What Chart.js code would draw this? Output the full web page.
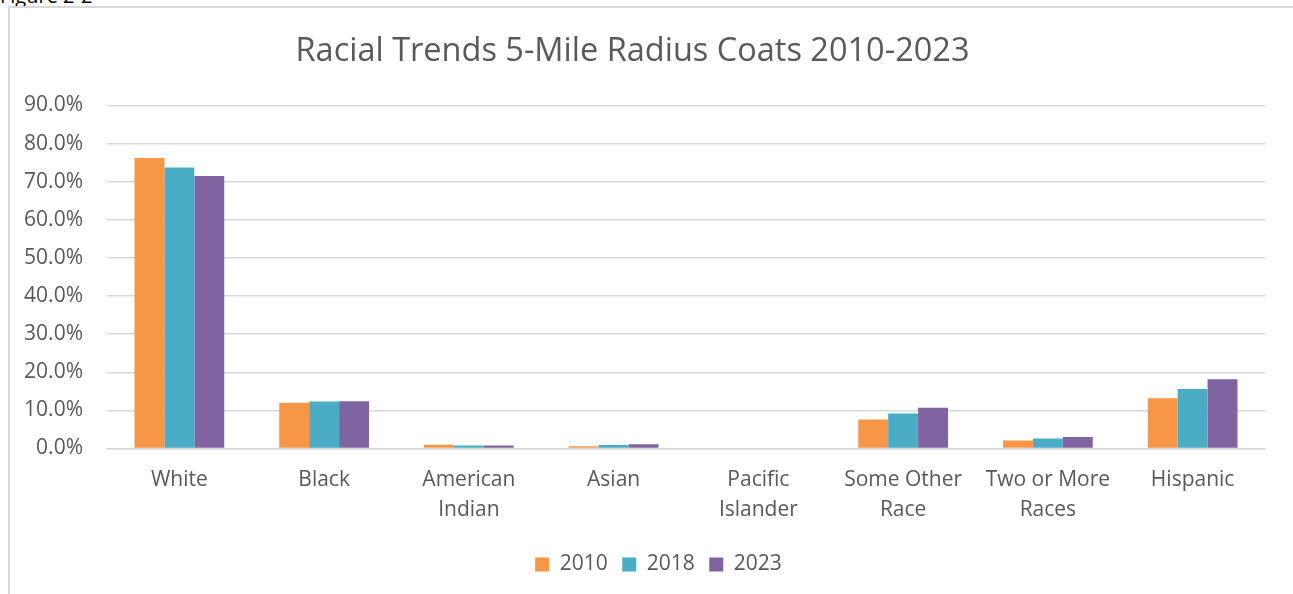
<!DOCTYPE html>
<html>
<head>
<meta charset="utf-8">
<script src="https://cdn.jsdelivr.net/npm/chart.js@4.4.1/dist/chart.umd.min.js"></script>
<style>
  html, body { margin: 0; padding: 0; background: #fff; overflow: hidden; }
  #wrap { position: relative; width: 1293px; height: 594px; }
  #fig { position: absolute; left: 0; top: -18px; font: 20px "Open Sans", Lato, sans-serif; color: #000; white-space: nowrap; }
  #frame { position: absolute; left: 8px; top: 6px; width: 1400px; height: 700px; border-top: 2px solid #d9d9d9; border-left: 2px solid #d9d9d9; }
  #c { position: absolute; left: 0; top: 0; }
</style>
</head>
<body>
<div id="wrap">
  <div id="fig">Figure 2-2</div>
  <div id="frame"></div>
  <canvas id="c" width="1293" height="594"></canvas>
</div>
<script>
const categories = ["White", "Black", ["American", "Indian"], "Asian", ["Pacific", "Islander"], ["Some Other", "Race"], ["Two or More", "Races"], "Hispanic"];
const seriesNames = ["2010", "2018", "2023"];
const values2010 = [76.2, 12.0, 1.0, 0.6, 0.0, 7.6, 2.1, 13.2];
const values2018 = [73.7, 12.3, 0.8, 0.9, 0.0, 9.2, 2.6, 15.6];
const values2023 = [71.5, 12.4, 0.8, 1.1, 0.0, 10.7, 3.0, 18.2];
const yTicks = [0, 10, 20, 30, 40, 50, 60, 70, 80, 90];
const titleText = "Racial Trends 5-Mile Radius Coats 2010-2023";

const colors = ["#F79646", "#4BACC6", "#8064A2"];
const FONT = "'Open Sans', Lato, sans-serif";
const TXT = "#595959";

const shiftLegend = {
  id: "shiftLegend",
  afterLayout(chart) {
    if (chart.legend) { chart.legend.left += 52; }
  }
};

new Chart(document.getElementById("c"), {
  type: "bar",
  data: {
    labels: categories,
    datasets: [values2010, values2018, values2023].map((d, i) => ({
      label: seriesNames[i],
      data: d,
      backgroundColor: colors[i],
      borderWidth: 0,
      categoryPercentage: 0.62,
      barPercentage: 1.0
    }))
  },
  plugins: [shiftLegend],
  options: {
    responsive: false,
    animation: false,
    layout: { padding: { left: 0, right: 28, top: 0, bottom: 9 } },
    plugins: {
      title: {
        display: true,
        text: titleText,
        color: TXT,
        font: { family: FONT, size: 32.5, weight: "normal", lineHeight: 1.2 },
        padding: { top: 32.5, bottom: 34 }
      },
      legend: {
        position: "bottom",
        labels: {
          color: TXT,
          font: { family: FONT, size: 21 },
          boxWidth: 14,
          boxHeight: 14,
          padding: 14.5
        }
      },
      tooltip: { enabled: false }
    },
    scales: {
      y: {
        min: 0,
        max: 90,
        afterBuildTicks: (s) => { s.ticks = yTicks.map(v => ({ value: v })); },
        afterFit: (s) => { s.width = 107; },
        ticks: {
          color: TXT,
          font: { family: FONT, size: 21 },
          padding: 24,
          callback: (v) => v.toFixed(1) + "%"
        },
        grid: { color: "#d9d9d9", lineWidth: 1.5, drawTicks: false, tickLength: 0 },
        border: { display: false }
      },
      x: {
        afterFit: (s) => { s.height -= 3; },
        ticks: {
          color: TXT,
          font: { family: FONT, size: 21, lineHeight: "30px" },
          padding: 17,
          maxRotation: 0,
          autoSkip: false
        },
        grid: { display: false, drawTicks: false, tickLength: 0 },
        border: { display: true, color: "#d9d9d9", width: 1.5 }
      }
    }
  }
});
</script>
</body>
</html>
